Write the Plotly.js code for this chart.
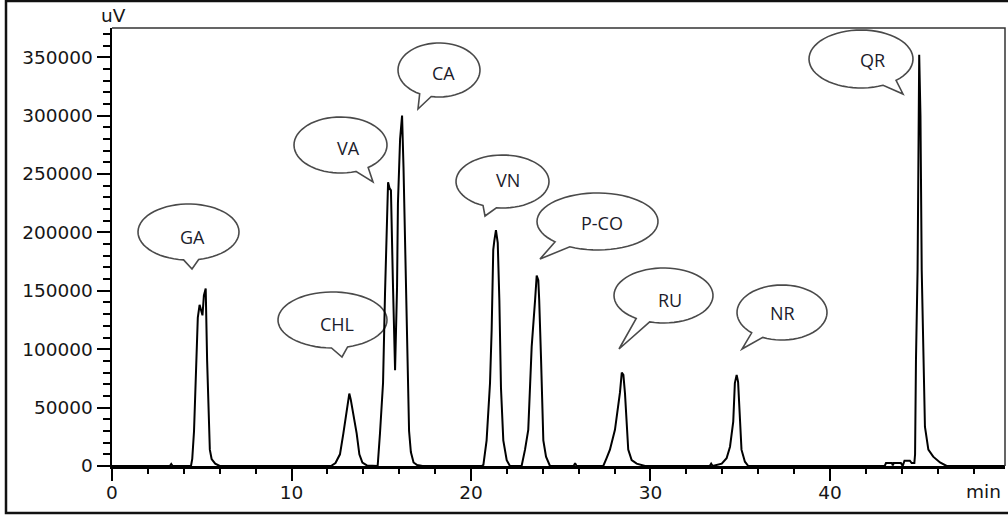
<!DOCTYPE html>
<html><head><meta charset="utf-8">
<script src="https://cdn.plot.ly/plotly-3.0.1.min.js"></script>
<style>html,body{margin:0;padding:0;background:#fff}#chart{width:1008px;height:515px}</style>
</head><body><div id="chart"></div>
<script>
// ---- data ----
const retentionTime = [0,3.22,3.30,3.38,4.40,4.47,4.57,4.63,4.70,4.78,4.88,4.96,5.04,5.12,5.22,5.30,5.38,5.45,5.55,5.75,6.00,
  12.20,12.45,12.70,12.89,13.04,13.15,13.22,13.30,13.44,13.63,13.78,13.95,14.20,
  14.80,14.93,15.10,15.21,15.32,15.38,15.46,15.54,15.65,15.71,15.77,15.88,15.93,16.05,16.16,16.24,16.32,16.40,16.48,16.55,16.65,16.80,17.00,17.30,
  20.60,20.69,20.87,21.06,21.15,21.24,21.30,21.39,21.49,21.58,21.67,21.80,21.99,22.17,
  22.82,23.01,23.19,23.33,23.38,23.57,23.62,23.66,23.75,23.80,23.90,23.94,24.03,24.18,24.40,
  25.72,25.80,25.88,
  27.37,27.56,27.74,28.02,28.21,28.30,28.40,28.49,28.58,28.67,28.76,28.95,29.23,29.70,
  33.30,33.38,33.46,33.97,34.24,34.43,34.61,34.70,34.80,34.88,34.98,35.07,35.26,35.45,
  43.05,43.12,43.45,43.50,43.55,43.95,44.05,44.15,44.45,44.55,44.70,44.74,44.79,44.88,44.97,45.04,45.11,45.20,45.29,45.48,45.75,46.13,46.50,49.75];
const signal = [0,0,1800,0,0,6000,30000,60000,100000,127000,138000,134000,129000,146000,152000,90000,40000,14000,6000,2000,0,
  0,2500,10000,28000,45000,58000,62000,57000,45000,28000,10000,3000,500,
  0,28000,71000,148000,223000,243000,238000,236000,157000,114000,82000,153000,225000,280000,300000,256000,200000,138000,70000,30000,12000,3000,800,0,
  0,1000,22000,71000,116000,185000,193000,202000,191000,142000,67000,22000,5000,0,
  0,14000,31000,80000,102000,142000,161000,163000,159000,142000,93000,62000,22000,8000,0,
  0,2500,0,
  0,7000,14000,31000,50000,63000,80000,78000,62000,31000,14000,5000,2000,0,
  0,2000,0,2000,6600,16500,38000,71000,78000,72000,38000,14000,3700,0,
  0,2500,2500,500,2500,2500,0,4500,4500,2500,2500,10000,91000,168000,352000,300000,168000,91000,33600,14000,8000,3000,0,0];
const peakLabels = ['GA','CHL','VA','CA','VN','P-CO','RU','NR','QR'];
const xTickVals = [0,10,20,30,40];
const xTickText = ['0','10','20','30','40'];
const yTickVals = [0,50000,100000,150000,200000,250000,300000,350000];
const yTickText = ['0','50000','100000','150000','200000','250000','300000','350000'];
const yUnit = 'uV';
const xUnit = 'min';

// ---- layout geometry (pixels of the 1008x515 page) ----
const W = 1008, H = 515;
const M = {l:112, r:3, t:28, b:49};
const PW = W - M.l - M.r, PH = H - M.t - M.b;
const px2x = p => (p - M.l) / PW;
const py2y = p => (H - M.b - p) / PH;

// bubble callouts: centre, radii, tail tip, text centre (pixels)
const bubbles = [
  {cx:188.5, cy:232,   rx:50.5, ry:28,   tx:192, ty:269, lx:192, ly:237},
  {cx:332.5, cy:320,   rx:54.5, ry:28,   tx:342, ty:357, lx:337, ly:324},
  {cx:340.5, cy:145,   rx:46.5, ry:28,   tx:373, ty:182, lx:348, ly:148},
  {cx:439,   cy:70,    rx:41,   ry:27,   tx:418, ty:109, lx:443, ly:73},
  {cx:502.5, cy:181.5, rx:46.5, ry:26.5, tx:485, ty:216, lx:508, ly:180},
  {cx:597.5, cy:221.5, rx:60.5, ry:28.5, tx:540, ty:259, lx:602, ly:223},
  {cx:663.5, cy:295.5, rx:49.5, ry:27.5, tx:619, ty:349, lx:670, ly:300},
  {cx:782,   cy:312.5, rx:45,   ry:27.5, tx:742, ty:349, lx:782, ly:313},
  {cx:861,   cy:59,    rx:52,   ry:29,   tx:903, ty:94,  lx:872, ly:60}
];

function bubblePath(b) {
  const phi = Math.atan2((b.ty - b.cy) / b.ry, (b.tx - b.cx) / b.rx);
  const d = 0.15, N = 60;
  const pts = [];
  for (let i = 0; i <= N; i++) {
    const a = phi + d + (2 * Math.PI - 2 * d) * i / N;
    pts.push([b.cx + b.rx * Math.cos(a), b.cy + b.ry * Math.sin(a)]);
  }
  pts.push([b.tx, b.ty]);
  return 'M' + pts.map(p => px2x(p[0]).toFixed(5) + ',' + py2y(p[1]).toFixed(5)).join('L') + 'Z';
}

const shapes = bubbles.map(b => ({
  type:'path', xref:'paper', yref:'paper', layer:'below',
  path: bubblePath(b), fillcolor:'#ffffff',
  line:{color:'#4a4a4a', width:1.6}
}));
// plot box top/right
shapes.push({type:'path', xref:'paper', yref:'paper', layer:'above',
  path:'M0,1L1,1L1,0', line:{color:'#333', width:1.5}});
// outer frame
shapes.push({type:'path', xref:'paper', yref:'paper', layer:'above',
  path:'M'+px2x(1012)+','+py2y(1)+'L'+px2x(6)+','+py2y(1)+'L'+px2x(6)+','+py2y(513)+'L'+px2x(1012)+','+py2y(513),
  line:{color:'#111', width:2.5}});

const textFont = {family:'Open Sans, Noto Sans, sans-serif', size:18, color:'#1c1c2c'};
const annotations = peakLabels.map((t, i) => ({
  text:t, xref:'paper', yref:'paper', x:px2x(bubbles[i].lx), y:py2y(bubbles[i].ly),
  showarrow:false, xanchor:'center', yanchor:'middle', font:textFont
}));
const axFont = {family:'DejaVu Sans, sans-serif', size:18.5, color:'#161616'};
annotations.push({text:yUnit, xref:'paper', yref:'paper', x:px2x(113), y:py2y(15),
  showarrow:false, xanchor:'center', yanchor:'middle', font:axFont});
annotations.push({text:xUnit, xref:'paper', yref:'paper', x:px2x(983), y:py2y(491),
  showarrow:false, xanchor:'center', yanchor:'middle', font:axFont});

const trace = {
  x: retentionTime, y: signal, type:'scatter', mode:'lines',
  line:{color:'#000', width:2}, hoverinfo:'skip'
};

const layout = {
  width:W, height:H, margin:M, showlegend:false,
  paper_bgcolor:'#fff', plot_bgcolor:'rgba(0,0,0,0)',
  xaxis:{range:[0,49.75], tickmode:'array', tickvals:xTickVals, ticktext:xTickText,
    showgrid:false, zeroline:false, showline:true, linecolor:'#000', linewidth:2.5,
    ticks:'outside', ticklen:12, tickwidth:2, tickcolor:'#000', tickfont:axFont, ticklabelstandoff:-4,
    minor:{dtick:2, tick0:0, ticks:'outside', ticklen:5, tickwidth:2, tickcolor:'#000', showgrid:false}},
  yaxis:{range:[0,375000], tickmode:'array', tickvals:yTickVals, ticktext:yTickText,
    showgrid:false, zeroline:false, showline:true, linecolor:'#000', linewidth:2.5,
    ticks:'outside', ticklen:13, tickwidth:2, tickcolor:'#000', tickfont:axFont,
    minor:{dtick:10000, tick0:0, ticks:'outside', ticklen:7, tickwidth:2, tickcolor:'#000', showgrid:false}},
  shapes:shapes, annotations:annotations
};

Plotly.newPlot('chart', [trace], layout, {staticPlot:true, displayModeBar:false});
</script></body></html>
